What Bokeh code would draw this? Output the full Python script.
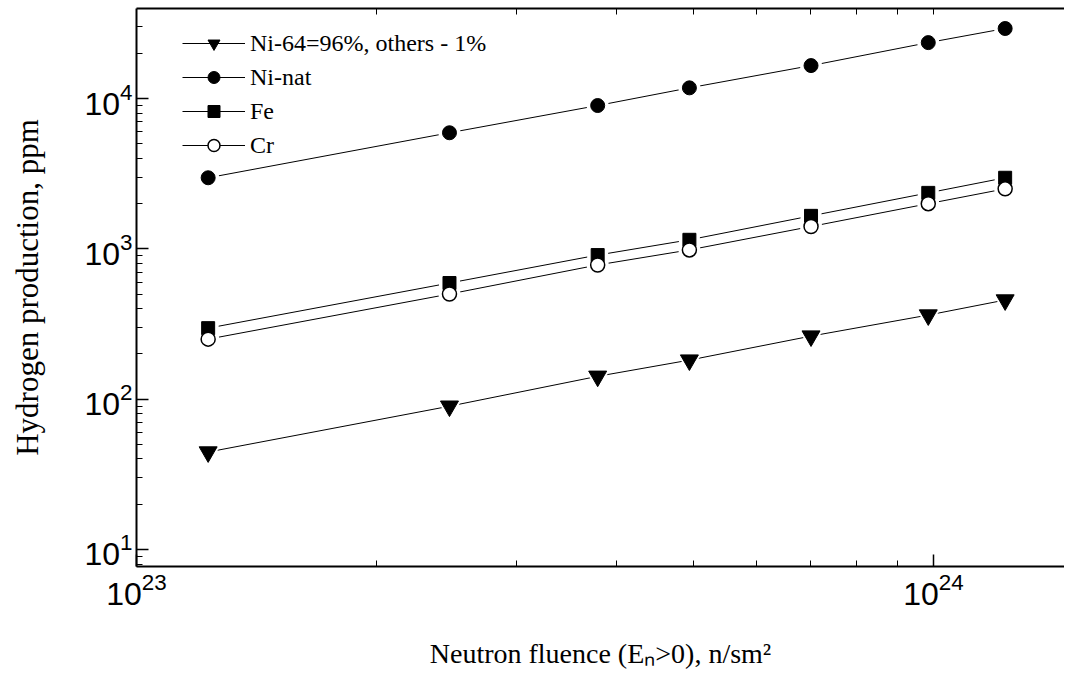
from bokeh.plotting import figure
from bokeh.models import LogAxis, Legend, LegendItem, Range1d, FixedTicker, LogTickFormatter
from bokeh.embed import file_html
from bokeh.resources import INLINE

# ---- data ----
fluence = [1.23e23, 2.47e23, 3.79e23, 4.94e23, 7.02e23, 9.85e23, 1.23e24]
ni64 = [44.5, 89.8, 142, 182, 263, 363, 457]
ni_nat = [2975, 5930, 9000, 11800, 16600, 23600, 29300]
fe = [297, 593, 910, 1150, 1660, 2360, 2975]
cr = [251, 501, 782, 985, 1410, 2000, 2512]

labels = ["Ni-64=96%, others - 1%", "Ni-nat", "Fe", "Cr"]
series = [ni64, ni_nat, fe, cr]
markers = ["inverted_triangle", "circle", "square", "circle"]
sizes = [18, 14, 13, 14]
fills = ["black", "black", "black", "white"]

x_major = [1e23, 1e24]
x_minor = [2e23, 3e23, 4e23, 5e23, 6e23, 7e23, 8e23, 9e23, 2e24, 3e24]

x_label = "Neutron fluence (E\u2099>0), n/sm\u00b2"
y_label = "Hydrogen production, ppm"

W, H = 1064, 684
p = figure(width=W, height=H, x_axis_type="log", y_axis_type="log",
           x_range=Range1d(1e23, 10 ** (23 + (W - 136) / 797.0)),
           y_range=Range1d(7.70, 39811),
           output_backend="svg", toolbar_location=None,
           min_border_left=136, min_border_right=0, min_border_top=8,
           min_border_bottom=H - 566)
p.outline_line_color = None
p.grid.visible = False
p.background_fill_color = "white"

lines = []
for ys in series:
    lines.append(p.line(fluence, ys, line_color="black", line_width=1))
# white halos to create the gap between lines and markers
for ys, m, s in zip(series, markers, sizes):
    p.scatter(fluence, ys, marker=m, size=s + 8, fill_color="white", line_color=None)
marks = []
for ys, m, s, f in zip(series, markers, sizes, fills):
    marks.append(p.scatter(fluence, ys, marker=m, size=s, fill_color=f,
                           line_color="black", line_width=1.5 if f == "white" else 1))

def style_axis(ax):
    ax.axis_line_width = 2
    ax.axis_line_color = "black"
    ax.major_tick_in = 12
    ax.major_tick_out = 0
    ax.minor_tick_in = 6
    ax.minor_tick_out = 0
    ax.major_tick_line_width = 1.5
    ax.minor_tick_line_width = 1
    ax.major_tick_line_color = "black"
    ax.minor_tick_line_color = "black"
    ax.major_label_text_font = "Liberation Sans"
    ax.major_label_text_color = "black"
    ax.major_label_text_font_size = "32px"

xa = p.xaxis[0]
ya = p.yaxis[0]
xa.ticker = FixedTicker(ticks=x_major, minor_ticks=x_minor)
xa.formatter = LogTickFormatter()
style_axis(xa)
style_axis(ya)
xa.major_label_standoff = 6
ya.major_label_standoff = 4
xa.axis_label = x_label
ya.axis_label = y_label
for ax in (xa, ya):
    ax.axis_label_text_font = "Liberation Serif"
    ax.axis_label_text_font_style = "normal"
    ax.axis_label_text_color = "black"
xa.axis_label_text_font_size = "28px"
ya.axis_label_text_font_size = "31px"
xa.axis_label_standoff = 30
ya.axis_label_standoff = 36

top = LogAxis(ticker=FixedTicker(ticks=[], minor_ticks=x_minor + [1e24]))
style_axis(top)
top.major_label_standoff = 0
p.add_layout(top, "above")

items = [LegendItem(label=lab, renderers=[ln, mk]) for lab, ln, mk in zip(labels, lines, marks)]
legend = Legend(items=items, location=(46, 406))
legend.border_line_color = None
legend.background_fill_alpha = 0
legend.label_text_font = "Liberation Serif"
legend.label_text_font_size = "24px"
legend.label_text_color = "black"
legend.glyph_width = 63
legend.glyph_height = 30
legend.label_height = 30
legend.spacing = 4
legend.label_standoff = 5
legend.padding = 0
legend.margin = 0
p.add_layout(legend)

open("out.html", "w").write(file_html(p, INLINE))
